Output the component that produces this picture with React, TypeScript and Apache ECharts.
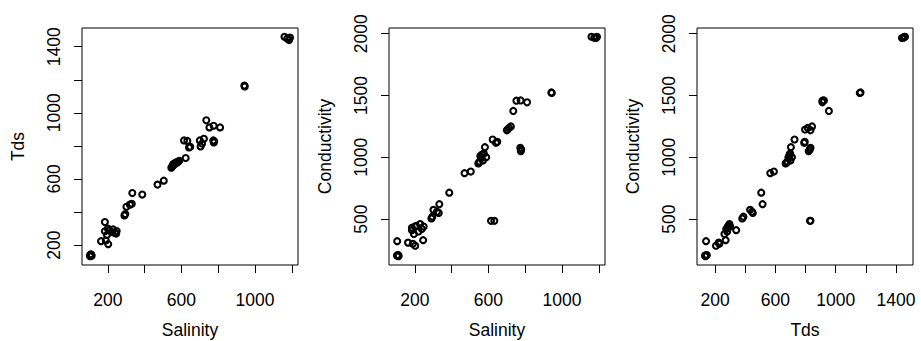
import React, { useEffect, useRef } from "react";
import * as echarts from "echarts";

const salinity = [104, 106, 110, 112, 108, 103, 163, 202, 189, 184, 184, 207, 229, 238, 245, 220, 195, 200, 248, 290, 295, 301, 320, 330, 333, 387, 470, 504, 545, 548, 552, 556, 560, 565, 570, 575, 581, 588, 623, 641, 648, 614, 632, 700, 722, 704, 712, 773, 776, 778, 735, 752, 775, 810, 942, 944, 1160, 1175, 1185, 1190];
const tds = [140, 138, 142, 136, 145, 133, 224, 206, 228, 340, 284, 289, 295, 274, 270, 280, 262, 300, 285, 380, 388, 432, 445, 450, 515, 506, 566, 590, 668, 672, 680, 690, 686, 695, 700, 698, 703, 710, 727, 791, 795, 833, 830, 833, 843, 797, 815, 833, 821, 828, 955, 912, 922, 912, 1165, 1160, 1460, 1450, 1440, 1455];
const conductivity = [322, 203, 207, 200, 210, 205, 310, 285, 300, 411, 430, 445, 460, 420, 330, 400, 380, 440, 440, 505, 520, 575, 560, 550, 621, 714, 872, 885, 950, 956, 965, 1010, 996, 1023, 975, 1030, 1082, 1000, 1144, 1117, 1125, 486, 486, 1218, 1250, 1225, 1238, 1077, 1050, 1064, 1375, 1458, 1460, 1445, 1525, 1520, 1975, 1968, 1965, 1975];

const salinityTicks = [200, 400, 600, 800, 1000, 1200];
const salinityLabels = [200, 600, 1000];
const tdsTicks = [200, 400, 600, 800, 1000, 1200, 1400];
const tdsLabels = [200, 600, 1000, 1400];
const condTicks = [500, 1000, 1500, 2000];
const condLabels = [500, 1000, 1500, 2000];

const FONT = "'Liberation Sans', Arial, Helvetica, sans-serif";
const FS = 17.5;

function rng(a: number[]): [number, number] {
  const mn = Math.min(...a);
  const mx = Math.max(...a);
  const p = (mx - mn) * 0.04;
  return [mn - p, mx + p];
}

export default function App() {
  const ref = useRef<HTMLDivElement>(null);
  useEffect(() => {
    if (!ref.current) return;
    const chart = echarts.init(ref.current, null, { renderer: "svg" });
    const panels = [
      { x: salinity, y: tds, xn: "Salinity", yn: "Tds", xt: salinityTicks, xl: salinityLabels, yt: tdsTicks, yl: tdsLabels },
      { x: salinity, y: conductivity, xn: "Salinity", yn: "Conductivity", xt: salinityTicks, xl: salinityLabels, yt: condTicks, yl: condLabels },
      { x: tds, y: conductivity, xn: "Tds", yn: "Conductivity", xt: tdsTicks, xl: tdsLabels, yt: condTicks, yl: condLabels },
    ];
    const lefts = [82, 389, 697];
    const fmt = (v: number) => String(Math.round(v));
    const grid = panels.map((_, i) => ({
      left: lefts[i],
      top: 28,
      width: 216,
      height: 237,
      show: true,
      borderColor: "#000",
      borderWidth: 1,
      backgroundColor: "transparent",
      containLabel: false,
      outerBoundsMode: "none",
    }));
    const xAxis = panels.map((p, i) => {
      const [mn, mx] = rng(p.x);
      return {
        type: "value",
        gridIndex: i,
        min: mn,
        max: mx,
        name: p.xn,
        nameLocation: "middle",
        nameGap: 56,
        nameMoveOverlap: false,
        nameTextStyle: { fontSize: FS, color: "#000", fontFamily: FONT },
        axisLine: { show: false },
        axisTick: { show: true, length: 8, customValues: p.xt, lineStyle: { color: "#000", width: 1 } },
        axisLabel: { customValues: p.xl, formatter: fmt, fontSize: FS, color: "#000", margin: 26, fontFamily: FONT },
        splitLine: { show: false },
      };
    });
    const yAxis = panels.map((p, i) => {
      const [mn, mx] = rng(p.y);
      return {
        type: "value",
        gridIndex: i,
        min: mn,
        max: mx,
        name: p.yn,
        nameLocation: "middle",
        nameRotate: 90,
        nameGap: 55,
        nameMoveOverlap: false,
        nameTextStyle: { fontSize: FS, color: "#000", fontFamily: FONT },
        axisLine: { show: false },
        axisTick: { show: true, length: 8, customValues: p.yt, lineStyle: { color: "#000", width: 1 } },
        axisLabel: { customValues: p.yl, formatter: fmt, fontSize: FS, color: "#000", margin: 19, rotate: 90, fontFamily: FONT },
        splitLine: { show: false },
      };
    });
    const series = panels.map((p, i) => ({
      type: "scatter",
      xAxisIndex: i,
      yAxisIndex: i,
      symbol: "circle",
      symbolSize: 6,
      data: p.x.map((v, k) => [v, p.y[k]]),
      itemStyle: { color: "rgba(0,0,0,0)", borderColor: "#000", borderWidth: 2.1, opacity: 1 },
      emphasis: { disabled: true },
    }));
    chart.setOption({
      animation: false,
      backgroundColor: "#fff",
      grid,
      xAxis,
      yAxis,
      series,
    } as any);
    return () => chart.dispose();
  }, []);
  return (
    <div
      ref={ref}
      style={{ position: "fixed", left: 0, top: 0, width: 921, height: 341 }}
    />
  );
}
